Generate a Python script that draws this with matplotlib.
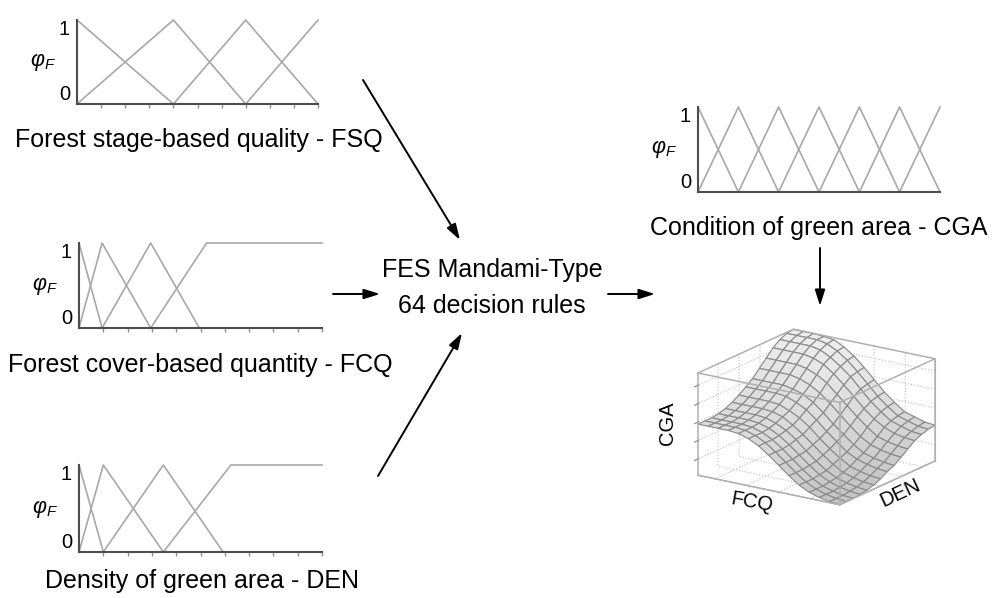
import numpy as np
import matplotlib.pyplot as plt
from matplotlib.patches import FancyArrowPatch
from matplotlib.colors import LinearSegmentedColormap

plt.rcParams['font.family'] = ['Liberation Sans', 'DejaVu Sans']
plt.rcParams['mathtext.fontset'] = 'custom'
plt.rcParams['mathtext.rm'] = 'Liberation Sans'
plt.rcParams['mathtext.it'] = 'Liberation Sans:italic'
plt.rcParams['grid.linestyle'] = ':'
plt.rcParams['grid.color'] = '#b8b8b8'
plt.rcParams['grid.linewidth'] = 0.8

W, H = 992, 598

# membership functions: breakpoints (x) and degrees (y) of each fuzzy set
fsq_x = [[0, 0.4], [0, 0.4, 0.7], [0.4, 0.7, 1.0], [0.7, 1.0]]
fsq_y = [[1, 0], [0, 1, 0], [0, 1, 0], [0, 1]]
fcq_x = [[0, 0.095], [0, 0.095, 0.295], [0.095, 0.295, 0.495], [0.295, 0.525, 1.0]]
fcq_y = [[1, 0], [0, 1, 0], [0, 1, 0], [0, 1, 1]]
den_x = [[0, 0.1], [0, 0.1, 0.347], [0.1, 0.347, 0.593], [0.347, 0.625, 1.0]]
den_y = [[1, 0], [0, 1, 0], [0, 1, 0], [0, 1, 1]]
cga_x = [[0, 0.167], [0, 0.167, 0.333], [0.167, 0.333, 0.5], [0.333, 0.5, 0.667],
         [0.5, 0.667, 0.833], [0.667, 0.833, 1.0], [0.833, 1.0]]
cga_y = [[1, 0], [0, 1, 0], [0, 1, 0], [0, 1, 0], [0, 1, 0], [0, 1, 0], [0, 1]]

# output surface CGA(FCQ, DEN), 15 x 15 grid (rows: FCQ, cols: DEN)
cga_surface = [
    [0.50, 0.50, 0.50, 0.51, 0.53, 0.56, 0.60, 0.65, 0.70, 0.77, 0.84, 0.91, 0.96, 0.99, 1.00],
    [0.50, 0.50, 0.50, 0.51, 0.53, 0.56, 0.60, 0.65, 0.70, 0.77, 0.84, 0.91, 0.96, 0.99, 1.00],
    [0.50, 0.50, 0.50, 0.51, 0.53, 0.56, 0.60, 0.65, 0.70, 0.77, 0.84, 0.91, 0.96, 0.99, 1.00],
    [0.50, 0.50, 0.50, 0.51, 0.53, 0.56, 0.60, 0.65, 0.70, 0.77, 0.84, 0.91, 0.96, 0.99, 0.99],
    [0.49, 0.49, 0.49, 0.50, 0.52, 0.55, 0.59, 0.64, 0.68, 0.75, 0.82, 0.89, 0.94, 0.97, 0.98],
    [0.46, 0.46, 0.46, 0.47, 0.49, 0.52, 0.55, 0.60, 0.65, 0.71, 0.78, 0.85, 0.89, 0.92, 0.93],
    [0.41, 0.41, 0.41, 0.42, 0.44, 0.46, 0.50, 0.55, 0.59, 0.65, 0.72, 0.78, 0.82, 0.85, 0.86],
    [0.34, 0.34, 0.34, 0.35, 0.37, 0.39, 0.43, 0.47, 0.51, 0.57, 0.63, 0.69, 0.74, 0.76, 0.77],
    [0.26, 0.26, 0.26, 0.27, 0.28, 0.31, 0.34, 0.38, 0.42, 0.48, 0.54, 0.60, 0.64, 0.66, 0.67],
    [0.18, 0.18, 0.18, 0.19, 0.20, 0.23, 0.26, 0.30, 0.34, 0.39, 0.45, 0.50, 0.54, 0.56, 0.57],
    [0.11, 0.11, 0.11, 0.12, 0.13, 0.16, 0.19, 0.22, 0.26, 0.31, 0.37, 0.42, 0.46, 0.48, 0.49],
    [0.06, 0.06, 0.06, 0.07, 0.08, 0.10, 0.13, 0.17, 0.20, 0.25, 0.30, 0.36, 0.39, 0.41, 0.42],
    [0.03, 0.03, 0.03, 0.04, 0.05, 0.07, 0.10, 0.14, 0.17, 0.22, 0.27, 0.32, 0.36, 0.38, 0.39],
    [0.01, 0.01, 0.01, 0.02, 0.03, 0.05, 0.08, 0.12, 0.15, 0.20, 0.25, 0.30, 0.33, 0.35, 0.36],
    [0.00, 0.00, 0.00, 0.01, 0.02, 0.04, 0.07, 0.11, 0.14, 0.19, 0.24, 0.29, 0.32, 0.34, 0.35],
]
cga_ticks = [0.16, 0.34, 0.52, 0.70, 0.88]

fig = plt.figure(figsize=(W / 100, H / 100), dpi=100)


def fx(x):
    return x / W


def fy(y):
    return 1 - y / H


def mf_panel(l, t, r, b, xs, ys, ticks=True):
    ax = fig.add_axes([fx(l), fy(b), (r - l) / W, (b - t) / H])
    for x, y in zip(xs, ys):
        ax.plot(x, y, color='#a8a8a8', lw=1.2, clip_on=False)
    ax.set_xlim(0, 1)
    ax.set_ylim(0, 1)
    ax.patch.set_alpha(0)
    for s in ('top', 'right'):
        ax.spines[s].set_visible(False)
    for s in ('left', 'bottom'):
        ax.spines[s].set_color('#4d4d4d')
        ax.spines[s].set_linewidth(1.5)
    ax.set_yticks([0, 1])
    ax.set_yticklabels(['0', '1'], fontsize=14.5)
    lab = ax.get_yticklabels()
    lab[0].set_va('bottom')
    lab[1].set_va('top')
    ax.tick_params(axis='y', length=0, pad=5)
    if ticks:
        ax.set_xticks([0.1, 0.2, 0.3, 0.4, 0.5, 0.6, 0.7, 0.8, 0.9, 1.0])
    else:
        ax.set_xticks([])
    ax.tick_params(axis='x', length=3, width=1, color='#909090', direction='out',
                   labelbottom=False)
    fig.text(fx(l - 21), fy((t + b) / 2), r'$\varphi_F$', fontsize=15.5,
             ha='right', va='center')
    return ax


mf_panel(77, 20, 318, 104, fsq_x, fsq_y)
mf_panel(79, 243, 322, 328, fcq_x, fcq_y)
mf_panel(79, 465, 322, 552, den_x, den_y)
mf_panel(698, 107, 940, 192, cga_x, cga_y, ticks=False)

fig.text(fx(15), fy(147), 'Forest stage-based quality - FSQ', fontsize=18, va='baseline')
fig.text(fx(8), fy(372), 'Forest cover-based quantity - FCQ', fontsize=18, va='baseline')
fig.text(fx(45), fy(588), 'Density of green area - DEN', fontsize=18, va='baseline')
fig.text(fx(650), fy(235), 'Condition of green area - CGA', fontsize=18, va='baseline')
fig.text(fx(492), fy(277), 'FES Mandami-Type', fontsize=18, ha='center', va='baseline')
fig.text(fx(492), fy(313), '64 decision rules', fontsize=18, ha='center', va='baseline')

arrows = [((363, 80), (460, 240)), ((333, 294), (380, 294)), ((608, 294), (655, 294)),
          ((378, 476), (462, 333)), ((820, 248), (820, 306))]
for (x0, y0), (x1, y1) in arrows:
    fig.add_artist(FancyArrowPatch((fx(x0), fy(y0)), (fx(x1), fy(y1)),
                                   transform=fig.transFigure,
                                   arrowstyle='-|>,head_length=0.8,head_width=0.25',
                                   mutation_scale=12, lw=1.4, color='black',
                                   shrinkA=0, shrinkB=0))

# 3D surface
ax3 = fig.add_axes([0.62, 0.1, 0.36, 0.36], projection='3d', computed_zorder=False)
grid = np.linspace(0, 1, 15)
X, Y = np.meshgrid(grid, grid)
Z = np.array(cga_surface).T
grays = LinearSegmentedColormap.from_list('grays', ['#c4c4c4', '#dcdcdc', '#ededed'])
ax3.plot_surface(X, Y, Z, rstride=1, cstride=1, facecolors=grays(Z),
                 edgecolor='#8c8c8c', linewidth=0.85, shade=False,
                 antialiased=True, zorder=2)
ax3.set_xlim(0, 1)
ax3.set_ylim(0, 1)
ax3.set_zlim(0, 1)
ax3.set_proj_type('ortho')
ax3.view_init(elev=18, azim=-56)
ax3.set_box_aspect((1, 1, 0.63))
ax3.set_xticks([0.12, 0.34, 0.57, 0.79])
ax3.set_yticks([0.21, 0.43, 0.65, 0.87])
ax3.set_zticks(cga_ticks)
ax3.set_xticklabels([])
ax3.set_yticklabels([])
ax3.set_zticklabels([])
for a in (ax3.xaxis, ax3.yaxis, ax3.zaxis):
    a.set_pane_color((1, 1, 1, 0))
    a.pane.set_edgecolor('#b4b4b4')
    a.pane.set_linewidth(1.0)
    a.line.set_color('#b4b4b4')
    a._axinfo['grid'].update(color='#bdbdbd', linestyle=':', linewidth=0.8)
    a._axinfo['tick']['inward_factor'] = 0
    a._axinfo['tick']['outward_factor'] = 0

# front frame edges drawn over the surface
x0, x1 = ax3.get_xlim()
y0, y1 = ax3.get_ylim()
z0, z1 = ax3.get_zlim()
edges = [([x0, x1, x1, x0, x0], [y0, y0, y1, y1, y0], [z1] * 5),
         ([x0, x0], [y0, y0], [z0, z1]), ([x1, x1], [y0, y0], [z0, z1]),
         ([x1, x1], [y1, y1], [z0, z1]), ([x0, x1, x1], [y0, y0, y1], [z0, z0, z0])]
for ex, ey, ez in edges:
    ax3.plot(ex, ey, ez, color='#b0b0b0', lw=1.1, zorder=5)
# small CGA tick marks on the left vertical edge
for zt in cga_ticks:
    ax3.plot([x0, x0], [y0, y0 - 0.035], [zt, zt], color='#909090', lw=0.9,
             zorder=5, clip_on=False)

# place the 3D box at its location in the diagram
fig.canvas.draw()
cx, cy, cz = np.meshgrid([x0, x1], [y0, y1], [z0, z1], indexing='ij')
P = ax3.M @ np.vstack([cx.ravel(), cy.ravel(), cz.ravel(), np.ones(8)])
pix = ax3.transData.transform(np.column_stack([P[0] / P[3], P[1] / P[3]]))
pos = ax3.get_position()
bx, by, S = pos.x0 * W, pos.y0 * H, pos.width * W
u0, u1 = (pix[:, 0].min() - bx) / S, (pix[:, 0].max() - bx) / S
v0, v1 = (pix[:, 1].min() - by) / S, (pix[:, 1].max() - by) / S
S2 = (935 - 698) / (u1 - u0)
bx2 = 698 - u0 * S2
by2 = (H - 417) - (v0 + v1) / 2 * S2
ax3.set_position([bx2 / W, by2 / H, S2 / W, S2 / H])

fig.text(fx(667), fy(423), 'CGA', fontsize=14.5, rotation=90, ha='center', va='center')
fig.text(fx(752), fy(502), 'FCQ', fontsize=14.5, rotation=-10, ha='center', va='center')
fig.text(fx(900), fy(493), 'DEN', fontsize=14.5, rotation=25, ha='center', va='center')

fig.savefig('out.png', dpi=100)
